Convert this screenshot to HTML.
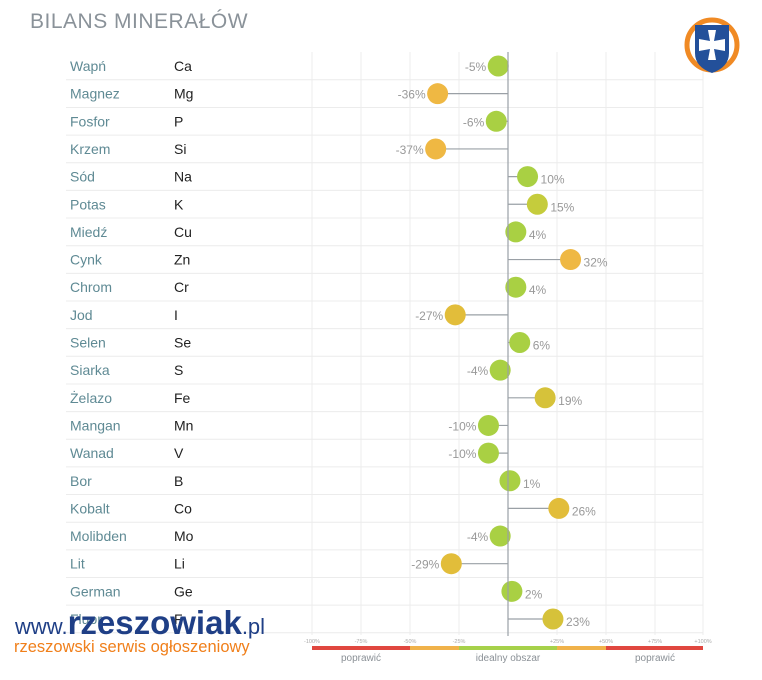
<!DOCTYPE html>
<html><head><meta charset="utf-8"><style>
body{margin:0;background:#fff;}
svg text{font-family:"Liberation Sans",sans-serif;}
</style></head><body>
<svg width="762" height="675" viewBox="0 0 762 675" xmlns="http://www.w3.org/2000/svg">
<rect width="762" height="675" fill="#fff"/>
<text x="30" y="28" font-size="21" fill="#8a9299" letter-spacing="0.5">BILANS MINERAŁÓW</text>
<g stroke="#ececec" stroke-width="1">
<line x1="312" y1="52" x2="312" y2="635"/><line x1="361" y1="52" x2="361" y2="635"/><line x1="410" y1="52" x2="410" y2="635"/><line x1="459" y1="52" x2="459" y2="635"/><line x1="557" y1="52" x2="557" y2="635"/><line x1="606" y1="52" x2="606" y2="635"/><line x1="655" y1="52" x2="655" y2="635"/><line x1="703" y1="52" x2="703" y2="635"/>
</g>
<g id="rows"></g>
<line x1="508" y1="52" x2="508" y2="636" stroke="#9aa0a6" stroke-width="1.2"/>
<g font-size="5.5" fill="#aaa" text-anchor="middle">
<text x="312" y="643">-100%</text><text x="361" y="643">-75%</text><text x="410" y="643">-50%</text><text x="459" y="643">-25%</text><text x="557" y="643">+25%</text><text x="606" y="643">+50%</text><text x="655" y="643">+75%</text><text x="703" y="643">+100%</text>
</g>
<rect x="312" y="646" width="98" height="4" fill="#e0473f"/>
<rect x="410" y="646" width="49" height="4" fill="#f0b24a"/>
<rect x="459" y="646" width="98" height="4" fill="#a6d14a"/>
<rect x="557" y="646" width="49" height="4" fill="#f0b24a"/>
<rect x="606" y="646" width="97" height="4" fill="#e0473f"/>
<g font-size="10" fill="#8a9096" text-anchor="middle">
<text x="361" y="661">poprawić</text><text x="508" y="661">idealny obszar</text><text x="655" y="661">poprawić</text>
</g>
<text x="15" y="634" fill="#1f3f86" font-size="22">www.<tspan font-size="33" font-weight="bold">rzeszowiak</tspan>.pl</text>
<text x="14" y="652" fill="#f07f1a" font-size="16.5">rzeszowski serwis ogłoszeniowy</text>
<g transform="translate(712,45)">
<circle r="25" fill="none" stroke="#f08a24" stroke-width="5"/>
<path d="M-17,-20 L17,-20 L17,8 Q17,22 0,28 Q-17,22 -17,8 Z" fill="#23509a"/>
<path d="M-4,-15 L4,-15 L2,-4 L13,-6 L13,6 L2,4 L4,15 L-4,15 L-2,4 L-13,6 L-13,-6 L-2,-4 Z" fill="#fff"/>
</g>
</svg>
<script>
var d=[["Wapń","Ca",-5],["Magnez","Mg",-36],["Fosfor","P",-6],["Krzem","Si",-37],["Sód","Na",10],["Potas","K",15],["Miedź","Cu",4],["Cynk","Zn",32],["Chrom","Cr",4],["Jod","I",-27],["Selen","Se",6],["Siarka","S",-4],["Żelazo","Fe",19],["Mangan","Mn",-10],["Wanad","V",-10],["Bor","B",1],["Kobalt","Co",26],["Molibden","Mo",-4],["Lit","Li",-29],["German","Ge",2],["Fluor","F",23]];
var g=document.getElementById("rows"),s="";
function col(v){v=Math.abs(v);if(v<=10)return"#a9d043";if(v<=15)return"#c5cc3c";if(v<=23)return"#d6c23a";if(v<=29)return"#e2bd3a";return"#efb843";}
d.forEach(function(r,i){var y=66+i*27.65;
s+='<line x1="66" y1="'+(y+13.8)+'" x2="703" y2="'+(y+13.8)+'" stroke="#ececec"/>';
s+='<text x="70" y="'+(y+5)+'" font-size="14" fill="#5f8a94">'+r[0]+'</text>';
s+='<text x="174" y="'+(y+5)+'" font-size="14" fill="#222">'+r[1]+'</text>';
var x=508+r[2]*1.955;
s+='<line x1="508" y1="'+y+'" x2="'+x+'" y2="'+y+'" stroke="#9aa0a6" stroke-width="1.2"/>';
s+='<circle cx="'+x+'" cy="'+y+'" r="10.5" fill="'+col(r[2])+'"/>';
if(r[2]<0)s+='<text x="'+(x-12)+'" y="'+(y+5)+'" font-size="12" fill="#999" text-anchor="end">'+r[2]+'%</text>';
else s+='<text x="'+(x+13)+'" y="'+(y+7)+'" font-size="12" fill="#999">'+r[2]+'%</text>';
});
g.innerHTML=s;
</script>
</body></html>
